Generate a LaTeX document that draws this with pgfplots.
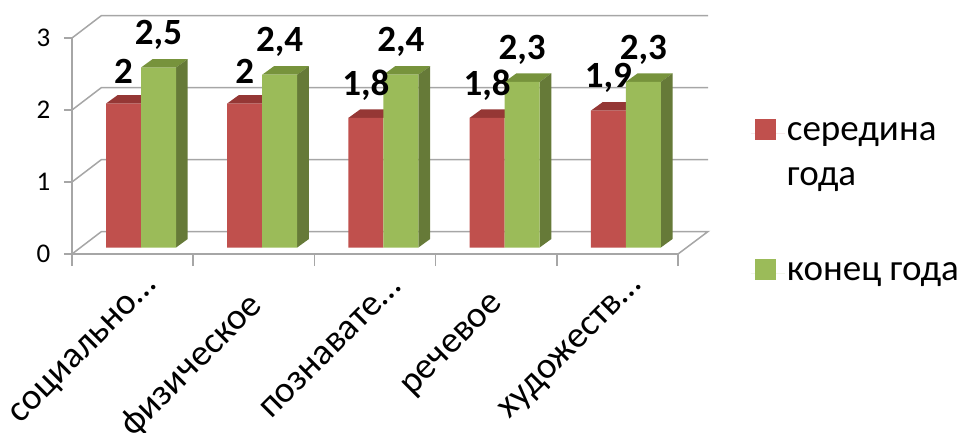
\documentclass[border=0pt]{standalone}
\usepackage{pgfplots}
\pgfplotsset{compat=1.18}
\usepackage{fontspec}
\setmainfont{Carlito}
\definecolor{redf}{HTML}{C0504D}
\definecolor{redt}{HTML}{953735}
\definecolor{grnf}{HTML}{9BBB59}
\definecolor{grnt}{HTML}{77933C}
\definecolor{grns}{HTML}{667A38}
\definecolor{wall}{HTML}{A6A6A6}
% 1 px = 1 pt; x runs in px, y in data units
% #1 front left, #2 front right, #3 value, #4 colour
\newcommand\topface[4]{%
  \pgfmathsetmacro\xa{#1+11.7}\pgfmathsetmacro\xb{#2+11.7}%
  \pgfmathsetmacro\ya{#3+0.09}\pgfmathsetmacro\yb{#3+0.208}%
  \edef\tmp{\noexpand\addplot[fill=#4,draw=none,forget plot] coordinates
    {(#1,\ya) (\xa,\yb) (\xb,\yb) (#2,\ya)} -- cycle;}\tmp}
\newcommand\sideface[3]{%
  \pgfmathsetmacro\xb{#1+11.7}%
  \pgfmathsetmacro\ya{#2+0.09}\pgfmathsetmacro\yb{#2+0.208}%
  \edef\tmp{\noexpand\addplot[fill=#3,draw=none,forget plot] coordinates
    {(#1,0.09) (\xb,0.208) (\xb,\yb) (#1,\ya)} -- cycle;}\tmp}
% strut for legend rows: 31pt above the baseline, #1 below
\newcommand\lh[1]{\rule[-#1]{0pt}{\dimexpr31pt+#1\relax}}
\begin{document}
\begin{tikzpicture}
\path[use as bounding box] (0,0) rectangle (961pt,432pt);
\begin{axis}[
    at={(72pt,178pt)}, anchor=south west,
    scale only axis, width=606pt, height=216pt,
    xmin=72, xmax=678, ymin=0, ymax=3,
    clip=false,
    axis lines*=left,
    axis line style={draw=wall,line width=1.5pt},
    tick style={draw=wall,line width=1.5pt},
    tick align=outside,
    xtick={72,193.2,314.4,435.6,556.8,678},
    x tick label as interval,
    xticklabels={социально\ldots,физическое\hspace*{25pt},познавате\ldots,речевое\hspace*{25pt},художеств\ldots},
    xtick style={/pgfplots/major tick length=12pt},
    ytick={0,1,2,3},
    ytick style={/pgfplots/major tick length=8pt},
    /pgf/number format/assume math mode=true,
    yticklabel style={font=\fontsize{27}{30}\selectfont,xshift=-14pt},
    xticklabel style={font=\fontsize{37}{40}\selectfont,rotate=45,anchor=east,xshift=1pt,yshift=-32pt},
    legend style={draw=none,fill=none,at={(1.115,0.69)},anchor=north west,
      font=\fontsize{37}{45}\selectfont,row sep=0pt,cells={anchor=base west},
      nodes={inner sep=2pt,text depth=}},
    every node near coord/.append style={font=\bfseries\fontsize{37}{38}\selectfont,
      anchor=center,yshift=39pt,/pgf/number format/use comma,/pgf/number format/assume math mode=true},
]
% back wall and floor
\addplot[wall,line width=1.5pt,forget plot] coordinates {(678,0) (708,0.3125) (101.5,0.3125) (72,0)};
\addplot[wall,line width=1.5pt,forget plot] coordinates {(72,1) (101.5,1.3125) (708,1.3125)};
\addplot[wall,line width=1.5pt,forget plot] coordinates {(72,2) (101.5,2.3125) (708,2.3125)};
\addplot[wall,line width=1.5pt,forget plot] coordinates {(72,3) (101.5,3.3125) (708,3.3125)};
% depth faces
\topface{106}{141}{2}{redt}
\topface{227.2}{262.2}{2}{redt}
\topface{348.4}{383.4}{1.8}{redt}
\topface{469.6}{504.6}{1.8}{redt}
\topface{590.8}{625.8}{1.9}{redt}
\topface{141}{176}{2.5}{grnt}
\topface{262.2}{297.2}{2.4}{grnt}
\topface{383.4}{418.4}{2.4}{grnt}
\topface{504.6}{539.6}{2.3}{grnt}
\topface{625.8}{660.8}{2.3}{grnt}
\sideface{176}{2.5}{grns}
\sideface{297.2}{2.4}{grns}
\sideface{418.4}{2.4}{grns}
\sideface{539.6}{2.3}{grns}
\sideface{660.8}{2.3}{grns}
% front faces
\addplot[ybar,bar width=35pt,bar shift=-9.1pt,yshift=6.5pt,fill=redf,draw=none,
    legend image code/.code={\fill[redf] (4pt,-6pt) rectangle (25pt,15pt);\path[draw=none] (0pt,0pt) -- (34pt,0pt);}]
    coordinates {(132.6,2) (253.8,2) (375,1.8) (496.2,1.8) (617.4,1.9)};
\addlegendentry{\lh{10pt}середина}
\addlegendimage{legend image code/.code={\path[draw=none] (0pt,0pt) -- (34pt,0pt);}}
\addlegendentry{\lh{60pt}года}
\addplot[ybar,bar width=35pt,bar shift=25.9pt,yshift=6.5pt,fill=grnf,draw=none,
    legend image code/.code={\fill[grnf] (4pt,-6pt) rectangle (25pt,15pt);\path[draw=none] (0pt,0pt) -- (34pt,0pt);}]
    coordinates {(132.6,2.5) (253.8,2.4) (375,2.4) (496.2,2.3) (617.4,2.3)};
\addlegendentry{\lh{10pt}конец года}
% value labels go last, above the bars
\addplot[only marks,mark=none,forget plot,nodes near coords]
    coordinates {(123.5,2) (244.7,2) (365.9,1.8) (487.1,1.8) (608.3,1.9)};
\addplot[only marks,mark=none,forget plot,nodes near coords]
    coordinates {(158.5,2.5) (279.7,2.4) (400.9,2.4) (522.1,2.3) (643.3,2.3)};
\end{axis}
\end{tikzpicture}
\end{document}
